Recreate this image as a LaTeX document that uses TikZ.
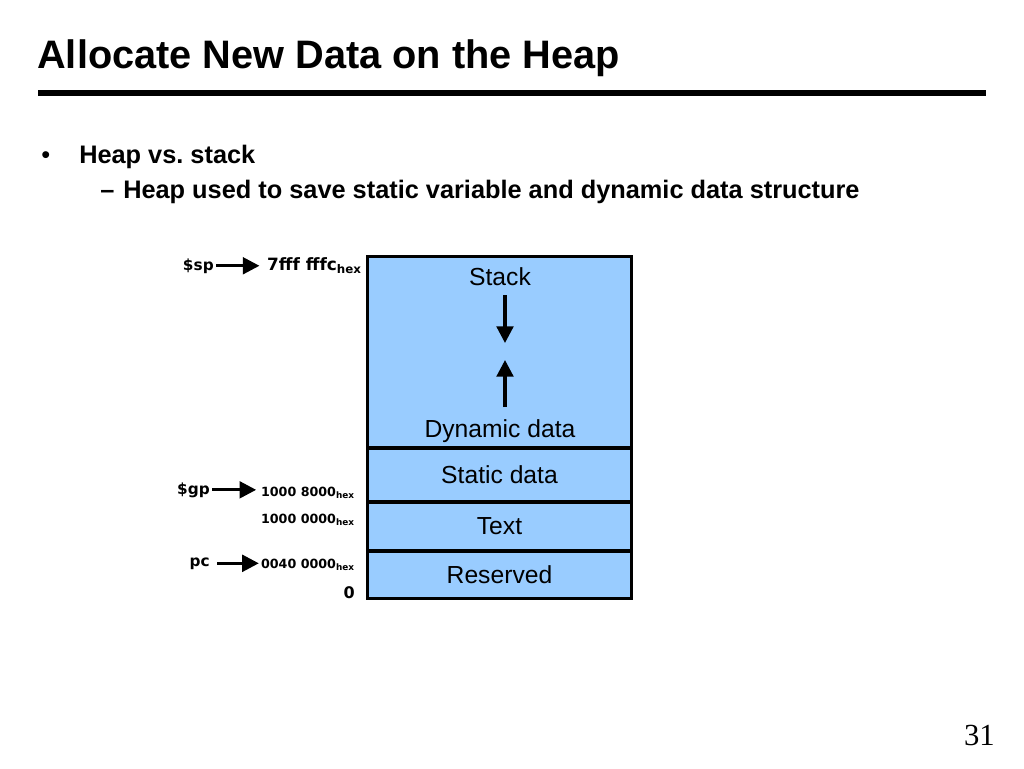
\documentclass[tikz,border=0pt]{standalone}
\usepackage{fontspec}
\setmainfont{Liberation Sans}
\newfontfamily\verdfont{DejaVu Sans}
\newfontfamily\serfont{Liberation Serif}
\usetikzlibrary{arrows.meta,positioning}
\definecolor{heapblue}{RGB}{153,204,255}

\begin{document}
\begin{tikzpicture}[x=0.75pt, y=-0.75pt, >={Triangle[length=12.5pt,width=12.5pt]},
    seg/.style={draw, line width=2.4pt, fill=heapblue, minimum width=198pt, outer sep=0pt, inner sep=0pt, font=\fontsize{18.5}{20}\selectfont},
    addr/.style={font=\verdfont\bfseries\fontsize{9.5}{10}\selectfont, anchor=base east, inner sep=0pt},
    reg/.style={font=\verdfont\bfseries\fontsize{11.5}{12}\selectfont, anchor=base east, inner sep=1.5pt},
    ptr/.style={->, line width=2.4pt}]
  \useasboundingbox[fill=white] (0,0) rectangle (1024,768);

  % title and rule
  \node[anchor=base west, inner sep=0pt, font=\bfseries\fontsize{29.8}{32}\selectfont] (title) at (37,68) {Allocate New Data on the Heap};
  \draw[line width=5.2pt] (38,93) -- (986,93);

  % bullets
  \node[anchor=base west, inner sep=0pt, font=\fontsize{19}{22}\selectfont] (bul1) at (41,163) {\textbullet};
  \node[anchor=base west, inner sep=0pt, font=\bfseries\fontsize{19}{22}\selectfont] (txt1) at (79,163) {Heap vs.\ stack};
  \node[anchor=base west, inner sep=0pt, font=\bfseries\fontsize{19}{22}\selectfont] (bul2) at (100,198) {--};
  \node[anchor=base west, inner sep=0pt, font=\bfseries\fontsize{19}{22}\selectfont] (txt2) at (123,198) {Heap used to save static variable and dynamic data structure};

  % memory layout
  \node[seg, minimum height=143.6pt, anchor=north west] (stack) at (367.5,256.5) {};
  \node[seg, minimum height=40.5pt, below=0pt of stack] (static) {Static data};
  \node[seg, minimum height=36.75pt, below=0pt of static] (text) {Text};
  \node[seg, minimum height=35.6pt, below=0pt of text] (reserved) {Reserved};

  \node[anchor=base, font=\fontsize{18.5}{20}\selectfont] (stacklbl) at (500,285) {Stack};
  \node[anchor=base, font=\fontsize{18.5}{20}\selectfont] (dynlbl) at (500,437) {Dynamic data};
  \coordinate (growdn) at (505,295);
  \coordinate (growdnend) at (505,343);
  \coordinate (growup) at (505,407);
  \coordinate (growupend) at (505,360);
  \draw[ptr] (growdn) -- (growdnend);
  \draw[ptr] (growup) -- (growupend);

  % addresses
  \node[addr, font=\verdfont\bfseries\fontsize{12.7}{14}\selectfont] (spaddr) at (362,270) {7fff fffc\textsubscript{hex}};
  \node[addr] (gpaddr) at (355,496) {1000 8000\textsubscript{hex}};
  \node[addr] (dataaddr) at (355,523) {1000 0000\textsubscript{hex}};
  \node[addr] (pcaddr) at (355,568) {0040 0000\textsubscript{hex}};
  \node[addr, font=\verdfont\bfseries\fontsize{12}{12}\selectfont] (zero) at (355,598) {0};

  % registers
  \node[reg] (sp) at (216,270) {\$sp};
  \node[reg] (gp) at (212,494) {\$gp};
  \node[reg] (pc) at (212,566) {pc};
  \draw[ptr, shorten >=5.5pt] (sp.east) -- (sp.east -| spaddr.west);
  \draw[ptr, shorten >=3.5pt] (gp.east) -- (gp.east -| gpaddr.west);
  \draw[ptr, shorten >=1.5pt] ([xshift=4pt]pc.east) -- (pc.east -| pcaddr.west);

  % page number
  \node[anchor=base east, inner sep=0pt, font=\serfont\fontsize{23}{25}\selectfont] (pagenum) at (995,745) {31};
\end{tikzpicture}
\end{document}
